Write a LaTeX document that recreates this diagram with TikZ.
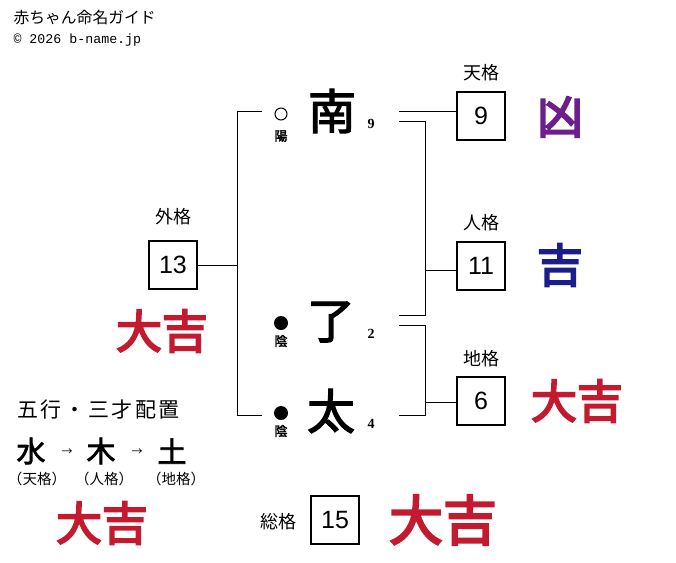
\documentclass[tikz,border=0pt]{standalone}
\usepackage{fontspec}
\setmainfont{Liberation Serif}
\newfontfamily\jp{Noto Sans CJK JP}
\newfontfamily\jpb{Noto Sans CJK JP}[FakeBold=2.5]
\newfontfamily\fudefont{Noto Sans CJK JP}[FakeBold=4]
\newfontfamily\numfont{Liberation Sans}
\newfontfamily\monofont{Liberation Mono}
\definecolor{daikichi}{HTML}{C41A30}
\definecolor{kyo}{HTML}{6B1E8C}
\definecolor{kichi}{HTML}{1C1C8A}

\tikzset{
  kaku/.style={draw, line width=1.6pt, minimum size=48pt, inner sep=0pt,
    font=\numfont\fontsize{25}{25}\selectfont},
  kakulabel/.style={inner sep=0pt, font=\jp\fontsize{18}{18}\selectfont},
  namechar/.style={inner sep=0pt, font=\jpb\fontsize{48}{48}\selectfont},
  kakusu/.style={inner sep=0pt, font=\bfseries\fontsize{14}{14}\selectfont},
  yomark/.style={circle, draw, line width=1pt, minimum size=12pt, inner sep=0pt},
  inmark/.style={circle, fill, minimum size=14pt, inner sep=0pt},
  inyo/.style={inner sep=0pt, font=\jpb\fontsize{13}{13}\selectfont},
  unsei/.style={inner sep=0pt, font=\fudefont\fontsize{46}{46}\selectfont},
  gogyo/.style={inner sep=0pt, font=\jpb\fontsize{29}{29}\selectfont},
  gogyolabel/.style={inner sep=0pt, font=\jp\fontsize{14.5}{14.5}\selectfont}
}

\begin{document}
\begin{tikzpicture}[x=1pt, y=-1pt, line width=1pt]
\useasboundingbox (0,0) rectangle (676,562);

% header
\node [anchor=west, inner sep=0pt, font=\jp\fontsize{15.8}{15.8}\selectfont] (title) at (13,18) {赤ちゃん命名ガイド};
\node [anchor=west, inner sep=0pt, font=\monofont\fontsize{13.3}{13.3}\selectfont] (copy) at (13,40) {© 2026 b-name.jp};

% name
\node [namechar] (minami) at (332,111) {南};
\node [namechar] (ryo) at (331,322) {了};
\node [namechar] (futo) at (331,411) {太};
\node [kakusu] at (371,124) (n1) {9};
\node [kakusu] at (371,334) (n2) {2};
\node [kakusu] at (371,424) (n3) {4};
\node [yomark] (yo1) at (281,114) {};
\node [inmark] (in2) at (281,323) {};
\node [inmark] (in3) at (281,413) {};
\node [inyo] (yo1l) at (281,136) {陽};
\node [inyo] (in2l) at (281,341) {陰};
\node [inyo] (in3l) at (281,431) {陰};

% boxes
\node [kaku] (ten) at (481,116) {9};
\node [kaku] (jin) at (481,266) {11};
\node [kaku] (chi) at (481,401) {6};
\node [kaku] (gai) at (173,265) {13};
\node [kaku] (so) at (335,520) {15};
\node [kakulabel] (tenl) at (481,73) {天格};
\node [kakulabel] (jinl) at (481,223) {人格};
\node [kakulabel] (chil) at (481,359) {地格};
\node [kakulabel] (gail) at (173,217) {外格};
\node [kakulabel] (sol) at (278,522) {総格};

% brackets
\coordinate (lt) at (262,111);
\coordinate (lb) at (262,415);
\coordinate (lm) at (237,265);
\draw (lt) -- (lm |- lt) -- (lm |- lb) -- (lb);
\draw (gai.east) -- (lm);

\coordinate (t1) at (399,111);
\draw (t1) -- (t1 -| ten.west);

\coordinate (r1) at (399,121);
\coordinate (r2) at (399,315);
\coordinate (rj) at (425,270);
\draw (r1) -- (rj |- r1) -- (rj |- r2) -- (r2);
\draw (rj) -- (rj -| jin.west);

\coordinate (c1) at (399,325);
\coordinate (c2) at (399,415);
\coordinate (cj) at (425,402);
\draw (c1) -- (cj |- c1) -- (cj |- c2) -- (c2);
\draw (cj) -- (cj -| chi.west);

% fortunes
\node [unsei, kyo] (tenu) at (560,117) {凶};
\node [unsei, kichi] (jinu) at (560,265) {吉};
\node [unsei, daikichi] (chiu) at (577,401) {大吉};
\node [unsei, daikichi] (gaiu) at (162,331) {大吉};
\node [unsei, daikichi, font=\fudefont\fontsize{54}{54}\selectfont] (sou) at (443,520) {大吉};

% gogyo
\node [anchor=west, inner sep=0pt, font=\jp\fontsize{21}{21}\selectfont\addfontfeature{LetterSpace=12}] (gogyot) at (17,410) {五行・三才配置};
\node [gogyo] (sui) at (31,451) {水};
\node [gogyo] (moku) at (101,451) {木};
\node [gogyo] (do) at (172,451) {土};
\node [inner sep=0pt, font=\jp\fontsize{11}{11}\selectfont] (a1) at (67,452) {→};
\node [inner sep=0pt, font=\jp\fontsize{11}{11}\selectfont] (a2) at (137,452) {→};
\node [gogyolabel] (suil) at (37,479) {（天格）};
\node [gogyolabel] (mokul) at (104,479) {（人格）};
\node [gogyolabel] (dol) at (176,479) {（地格）};
\node [unsei, daikichi] (gogyou) at (102,523) {大吉};
\end{tikzpicture}
\end{document}
